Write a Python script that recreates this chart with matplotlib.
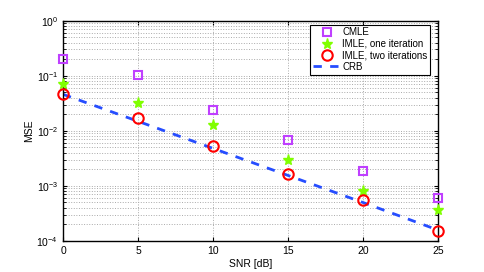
import numpy as np
import matplotlib
matplotlib.use("Agg")
import matplotlib.pyplot as plt
from matplotlib.ticker import LogLocator, NullFormatter

snr = [0, 5, 10, 15, 20, 25]
cmle = [0.20, 0.105, 0.024, 0.0068, 0.0019, 0.00060]
imle1 = [0.070, 0.032, 0.0128, 0.0029, 0.00081, 0.00037]
imle2 = [0.047, 0.017, 0.0052, 0.00165, 0.00056, 0.000153]
crb = [0.046, 0.0149, 0.0048, 0.00155, 0.00050, 0.000158]
xticks = [0, 5, 10, 15, 20, 25]

plt.rcParams['font.family'] = ['Liberation Sans', 'DejaVu Sans']
fig = plt.figure(figsize=(4.85, 2.72), dpi=100)
ax = fig.add_axes([0.13, 0.114, 0.773, 0.81])

ax.semilogy(snr, crb, '--', color=(0.15, 0.3, 1.0), lw=2.0, dashes=(3, 3), label='CRB', zorder=2)
ax.semilogy(snr, cmle, 's', mfc='none', mec=(0.75, 0.25, 1.0), mew=1.5, ms=6, label='CMLE', zorder=3, clip_on=False)
ax.semilogy(snr, imle1, '*', color=(0.5, 1.0, 0.0), mec=(0.5, 1.0, 0.0), ms=8, label='IMLE, one iteration', zorder=3, clip_on=False)
ax.semilogy(snr, imle2, 'o', mfc='none', mec='red', mew=1.5, ms=7.5, label='IMLE, two iterations', zorder=4, clip_on=False)

ax.set_xlim(0, 25)
ax.set_ylim(1e-4, 1)
ax.set_xticks(xticks)
ax.yaxis.set_major_locator(LogLocator(base=10, numticks=10))
ax.yaxis.set_minor_locator(LogLocator(base=10, subs=np.arange(2, 10), numticks=10))
ax.yaxis.set_minor_formatter(NullFormatter())
ax.grid(True, which='major', linestyle=':', color='#aaaaaa', lw=0.7)
ax.grid(True, which='minor', axis='y', linestyle=':', color='#aaaaaa', lw=0.7)
ax.tick_params(which='both', direction='in', labelsize=7.5, top=True, right=True)
ax.tick_params(which='minor', length=2)
ax.tick_params(which='major', length=3)
for s in ax.spines.values():
    s.set_linewidth(1.0)

ax.set_xlabel('SNR [dB]', fontsize=7.5, labelpad=2)
ax.set_ylabel('MSE', fontsize=7.5, labelpad=2)

h, l = ax.get_legend_handles_labels()
order = [1, 2, 3, 0]
leg = ax.legend([h[i] for i in order], [l[i] for i in order], loc='upper right',
                fontsize=7, fancybox=False, framealpha=1, edgecolor='black',
                handlelength=2.8, borderpad=0.3, labelspacing=0.15, handletextpad=0.2,
                borderaxespad=0.4, bbox_to_anchor=(0.99, 1.0))
leg.get_frame().set_linewidth(0.8)

fig.savefig('out.png', dpi=100)
